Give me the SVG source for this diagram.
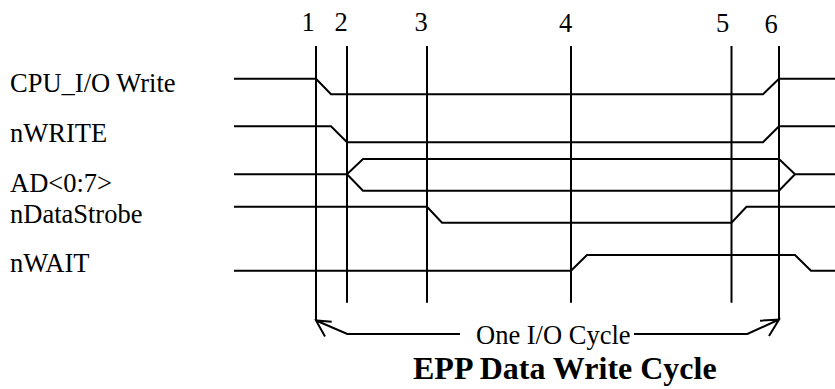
<svg xmlns="http://www.w3.org/2000/svg" width="835" height="389" viewBox="0 0 835 389">
<style>
.w{fill:none;stroke:#000;stroke-width:2;stroke-linejoin:miter;stroke-linecap:butt}
.t{font-family:"Liberation Serif","Times New Roman",serif;font-size:26.5px;fill:#000}
.n{font-family:"Liberation Serif","Times New Roman",serif;font-size:26.5px;fill:#000;text-anchor:middle}
.h{font-family:"Liberation Serif","Times New Roman",serif;font-size:32px;font-weight:bold;fill:#000}
</style>
<rect width="835" height="389" fill="#fff"/>
<g id="labels">
<text class="t" x="10" y="91.5">CPU_I/O Write</text>
<text class="t" x="10" y="142">nWRITE</text>
<text class="t" x="10" y="191.5">AD&lt;0:7&gt;</text>
<text class="t" x="10" y="222.5">nDataStrobe</text>
<text class="t" x="10" y="271.5">nWAIT</text>
</g>
<g id="markers">
<text class="n" x="308" y="31">1</text>
<text class="n" x="341" y="31">2</text>
<text class="n" x="421" y="31">3</text>
<text class="n" x="565.5" y="31.5">4</text>
<text class="n" x="722.5" y="31.5">5</text>
<text class="n" x="771" y="33">6</text>
</g>
<g id="sig-cpu-io-write"><path class="w" d="M234,78.7 L316,78.7 L331,94.3 L763,94.3 L779,78.7 L835,78.7"/></g>
<g id="sig-nwrite"><path class="w" d="M234,126.3 L331,126.3 L347,142.3 L763,142.3 L779,126.3 L835,126.3"/></g>
<g id="sig-ad"><path class="w" d="M234,174.3 L347,174.3 L363,159 L779,159 L795,174.3 L835,174.3 M347,174.3 L363,190.7 L779,190.7 L795,174.3"/></g>
<g id="sig-ndatastrobe"><path class="w" d="M234,206.7 L427,206.7 L442,222.7 L731.5,222.7 L746.5,206.7 L835,206.7"/></g>
<g id="sig-nwait"><path class="w" d="M234,270.7 L571,270.7 L587,255 L795,255 L811,270.7 L835,270.7"/></g>
<g id="connectors">
<path class="w" d="M316,46 V320.5 M347,46 V302.7 M427,46 V302.7 M571,46 V302.7 M731.5,46 V302.7 M779,46 V319.5"/>
<path class="w" d="M460,334 L347.3,334 L316,320.5 M325,336.5 L316,320.5 L331.7,321.7"/>
<path class="w" d="M634,334 L747.3,334 L779,319.5 M760,320.7 L779,319.5 L769,336"/>
</g>
<text class="t" x="476" y="344">One I/O Cycle</text>
<text class="h" x="413" y="379">EPP Data Write Cycle</text>
</svg>
